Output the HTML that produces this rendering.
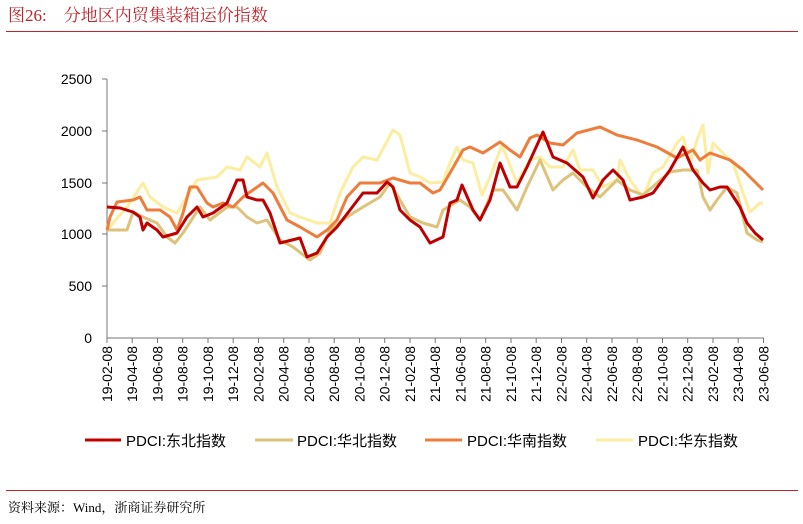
<!DOCTYPE html>
<html><head><meta charset="utf-8"><style>
body{margin:0;background:#fff;}
svg text{font-family:"Liberation Sans","Noto Sans CJK SC",sans-serif;}
</style></head><body>
<svg width="803" height="519" viewBox="0 0 803 519" xmlns="http://www.w3.org/2000/svg">
<text x="8" y="21" font-size="17" fill="#c0242c" style="font-family:'Liberation Serif','Noto Serif CJK SC',serif">图26:　分地区内贸集装箱运价指数</text>
<line x1="6" y1="31.5" x2="798" y2="31.5" stroke="#c0242c" stroke-width="1"/>
<g font-size="14" fill="#000" text-anchor="end">
<text x="92" y="84">2500</text><text x="92" y="136">2000</text><text x="92" y="188">1500</text><text x="92" y="239">1000</text><text x="92" y="291">500</text><text x="92" y="343">0</text>
</g>
<g stroke="#777" stroke-width="1">
<line x1="107" y1="79" x2="107" y2="338"/>
<line x1="102" y1="79" x2="107" y2="79"/><line x1="102" y1="131" x2="107" y2="131"/><line x1="102" y1="183" x2="107" y2="183"/><line x1="102" y1="234" x2="107" y2="234"/><line x1="102" y1="286" x2="107" y2="286"/>
<line x1="107" y1="338" x2="764" y2="338"/>
</g>
<g fill="none" stroke-width="3" stroke-linejoin="round">
<polyline stroke="#fbeea0" points="107,230 113,223 127,207 143,183 150,197 163,207 177,213 197,180 217,177 227,167 240,170 247,157 260,167 267,153 277,187 290,213 300,217 317,223 330,223 340,193 353,167 363,157 377,160 393,130 400,135 410,173 420,177 430,183 443,182 450,163 457,147 463,160 473,163 482,195 490,177 502,145 517,183 530,160 540,157 550,167 563,167 573,150 580,170 593,170 603,187 617,180 620,160 630,180 643,197 653,173 663,167 677,143 683,137 690,163 697,140 703,125 708,173 713,143 723,153 733,163 743,193 750,212 760,203 763,203"/>
<polyline stroke="#ddc27a" points="107,230 120,230 127,230 133,212 143,217 157,223 167,237 175,243 183,233 200,207 210,220 227,207 237,207 247,217 257,223 267,220 280,240 293,247 310,260 320,253 330,230 347,217 363,207 380,197 390,183 400,200 410,217 423,223 437,227 443,210 460,200 470,207 480,220 493,190 503,190 517,210 527,187 540,160 553,190 563,180 573,173 587,187 600,197 617,180 630,190 643,195 657,183 670,172 683,170 697,170 703,197 710,210 717,200 727,187 737,193 747,233 757,240 763,242"/>
<polyline stroke="#ee7d3c" points="107,230 110,217 117,202 133,200 140,197 147,210 160,210 170,217 177,230 183,213 190,187 197,187 207,203 213,207 223,203 233,207 243,197 253,190 263,183 273,193 287,220 300,227 317,237 327,230 337,220 347,197 360,183 380,183 393,178 410,183 420,183 433,193 440,190 450,173 463,150 470,147 483,153 500,142 510,150 520,157 530,138 537,135 550,143 563,145 577,133 600,127 617,135 637,140 657,147 677,158 693,150 700,160 710,153 730,160 743,170 753,180 763,190"/>
<polyline stroke="#c00000" points="107,207 120,208 133,212 140,217 143,230 147,223 157,230 163,237 177,233 187,217 197,207 203,217 213,213 227,203 237,180 243,180 247,197 257,200 263,200 270,213 280,243 300,238 307,257 317,253 327,237 337,227 350,210 363,193 377,193 387,182 393,187 400,210 410,220 420,227 430,243 443,237 450,203 457,200 462,185 473,210 480,220 490,200 500,163 510,187 517,187 527,167 543,132 553,157 567,163 583,177 593,198 603,180 613,170 623,180 630,200 643,197 653,193 670,170 683,147 693,170 703,183 710,190 720,187 727,187 740,207 747,223 755,233 763,240"/>
</g>
<g font-size="15" fill="#000">
<line x1="85" y1="440" x2="121" y2="440" stroke="#c00000" stroke-width="3"/><text x="126" y="446">PDCI:东北指数</text>
<line x1="255" y1="440" x2="293" y2="440" stroke="#ddc27a" stroke-width="3"/><text x="297" y="446">PDCI:华北指数</text>
<line x1="425" y1="440" x2="462" y2="440" stroke="#ee7d3c" stroke-width="3"/><text x="467" y="446">PDCI:华南指数</text>
<line x1="596" y1="440" x2="633" y2="440" stroke="#fbeea0" stroke-width="3"/><text x="638" y="446">PDCI:华东指数</text>
</g>
<line x1="6" y1="490.5" x2="798" y2="490.5" stroke="#c0242c" stroke-width="1"/>
<text x="8" y="512" font-size="13" fill="#000" style="font-family:'Liberation Serif','Noto Serif CJK SC',serif">资料来源：Wind，浙商证券研究所</text>
<g font-size="14" fill="#000" text-anchor="end">
<g transform="translate(107,0)"><line x1="0" y1="338" x2="0" y2="343" stroke="#777"/><text transform="translate(5,346) rotate(-90)">19-02-08</text></g>
<g transform="translate(132.2,0)"><line x1="0" y1="338" x2="0" y2="343" stroke="#777"/><text transform="translate(5,346) rotate(-90)">19-04-08</text></g>
<g transform="translate(157.5,0)"><line x1="0" y1="338" x2="0" y2="343" stroke="#777"/><text transform="translate(5,346) rotate(-90)">19-06-08</text></g>
<g transform="translate(182.7,0)"><line x1="0" y1="338" x2="0" y2="343" stroke="#777"/><text transform="translate(5,346) rotate(-90)">19-08-08</text></g>
<g transform="translate(208,0)"><line x1="0" y1="338" x2="0" y2="343" stroke="#777"/><text transform="translate(5,346) rotate(-90)">19-10-08</text></g>
<g transform="translate(233.2,0)"><line x1="0" y1="338" x2="0" y2="343" stroke="#777"/><text transform="translate(5,346) rotate(-90)">19-12-08</text></g>
<g transform="translate(258.5,0)"><line x1="0" y1="338" x2="0" y2="343" stroke="#777"/><text transform="translate(5,346) rotate(-90)">20-02-08</text></g>
<g transform="translate(283.7,0)"><line x1="0" y1="338" x2="0" y2="343" stroke="#777"/><text transform="translate(5,346) rotate(-90)">20-04-08</text></g>
<g transform="translate(309,0)"><line x1="0" y1="338" x2="0" y2="343" stroke="#777"/><text transform="translate(5,346) rotate(-90)">20-06-08</text></g>
<g transform="translate(334.2,0)"><line x1="0" y1="338" x2="0" y2="343" stroke="#777"/><text transform="translate(5,346) rotate(-90)">20-08-08</text></g>
<g transform="translate(359.5,0)"><line x1="0" y1="338" x2="0" y2="343" stroke="#777"/><text transform="translate(5,346) rotate(-90)">20-10-08</text></g>
<g transform="translate(384.7,0)"><line x1="0" y1="338" x2="0" y2="343" stroke="#777"/><text transform="translate(5,346) rotate(-90)">20-12-08</text></g>
<g transform="translate(410,0)"><line x1="0" y1="338" x2="0" y2="343" stroke="#777"/><text transform="translate(5,346) rotate(-90)">21-02-08</text></g>
<g transform="translate(435.2,0)"><line x1="0" y1="338" x2="0" y2="343" stroke="#777"/><text transform="translate(5,346) rotate(-90)">21-04-08</text></g>
<g transform="translate(460.5,0)"><line x1="0" y1="338" x2="0" y2="343" stroke="#777"/><text transform="translate(5,346) rotate(-90)">21-06-08</text></g>
<g transform="translate(485.7,0)"><line x1="0" y1="338" x2="0" y2="343" stroke="#777"/><text transform="translate(5,346) rotate(-90)">21-08-08</text></g>
<g transform="translate(511,0)"><line x1="0" y1="338" x2="0" y2="343" stroke="#777"/><text transform="translate(5,346) rotate(-90)">21-10-08</text></g>
<g transform="translate(536.2,0)"><line x1="0" y1="338" x2="0" y2="343" stroke="#777"/><text transform="translate(5,346) rotate(-90)">21-12-08</text></g>
<g transform="translate(561.5,0)"><line x1="0" y1="338" x2="0" y2="343" stroke="#777"/><text transform="translate(5,346) rotate(-90)">22-02-08</text></g>
<g transform="translate(586.7,0)"><line x1="0" y1="338" x2="0" y2="343" stroke="#777"/><text transform="translate(5,346) rotate(-90)">22-04-08</text></g>
<g transform="translate(612,0)"><line x1="0" y1="338" x2="0" y2="343" stroke="#777"/><text transform="translate(5,346) rotate(-90)">22-06-08</text></g>
<g transform="translate(637.2,0)"><line x1="0" y1="338" x2="0" y2="343" stroke="#777"/><text transform="translate(5,346) rotate(-90)">22-08-08</text></g>
<g transform="translate(662.5,0)"><line x1="0" y1="338" x2="0" y2="343" stroke="#777"/><text transform="translate(5,346) rotate(-90)">22-10-08</text></g>
<g transform="translate(687.7,0)"><line x1="0" y1="338" x2="0" y2="343" stroke="#777"/><text transform="translate(5,346) rotate(-90)">22-12-08</text></g>
<g transform="translate(713,0)"><line x1="0" y1="338" x2="0" y2="343" stroke="#777"/><text transform="translate(5,346) rotate(-90)">23-02-08</text></g>
<g transform="translate(738.2,0)"><line x1="0" y1="338" x2="0" y2="343" stroke="#777"/><text transform="translate(5,346) rotate(-90)">23-04-08</text></g>
<g transform="translate(763.5,0)"><line x1="0" y1="338" x2="0" y2="343" stroke="#777"/><text transform="translate(5,346) rotate(-90)">23-06-08</text></g>
</g>
</svg>
</body></html>
